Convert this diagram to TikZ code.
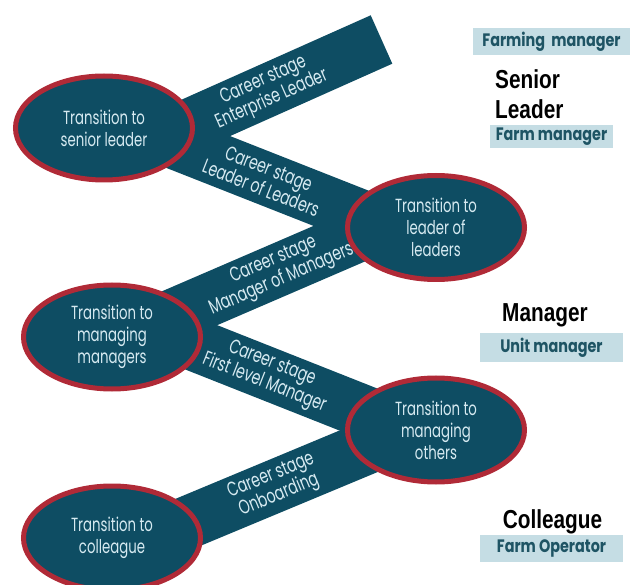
\documentclass[tikz,border=0pt]{standalone}
\usepackage{fontspec}
\newfontfamily\gothic[FakeStretch=0.7]{Poppins}
\newfontfamily\gothicwide[FakeStretch=0.8]{Poppins}
\newfontfamily\narrowhead[FakeStretch=0.8]{Liberation Sans}
\usetikzlibrary{shapes.geometric,backgrounds}
\definecolor{stagecol}{RGB}{14,77,99}
\definecolor{rimred}{RGB}{176,42,55}
\definecolor{boxblue}{RGB}{197,221,228}
\definecolor{boxtext}{RGB}{30,84,100}
\definecolor{paletext}{RGB}{214,234,241}
\begin{document}
\begin{tikzpicture}[x=1pt,y=-1pt,
    trans/.style={ellipse, draw=rimred, line width=5pt, fill=stagecol, minimum width=177pt, minimum height=104pt, inner sep=0pt, text=paletext, align=center, font=\gothic\fontsize{19}{22}\selectfont},
    band/.style={draw=stagecol, line width=53pt},
    stagelbl/.style={sloped, text=paletext, align=center, inner sep=0pt, font=\gothic\fontsize{20}{21}\selectfont},
    level/.style={inner sep=0pt, align=left, font=\narrowhead\bfseries\fontsize{26}{30}\selectfont},
    role/.style={fill=boxblue, text=boxtext, inner sep=0pt, font=\gothicwide\bfseries\fontsize{18}{20}\selectfont}]
    \useasboundingbox (0,0) rectangle (632,585);

    \node[trans] (senior) at (104,128) {Transition to\\senior leader};
    \node[trans] (leaders) at (436,227.5) {Transition to\\leader of\\leaders};
    \node[trans] (mgrs) at (112,337) {Transition to\\managing\\managers};
    \node[trans] (others) at (436,430) {Transition to\\managing\\others};
    \node[trans] (colleague) at (112,538) {Transition to\\colleague};
    \coordinate (peak) at (381.5,39.5);

    \begin{scope}[on background layer]
        \draw[band] ([shift={(50,13)}]senior.center) -- node[stagelbl, pos=0.5]{Career stage\\Enterprise Leader} (peak);
        \draw[band] ([shift={(46,5)}]senior.center) -- node[stagelbl, pos=0.46]{Career stage\\Leader of Leaders} ([shift={(-36,4)}]leaders.center);
        \draw[band] ([shift={(48,-16)}]mgrs.center) -- node[stagelbl, pos=0.49]{Career stage\\Manager of Managers} ([shift={(-36,-10)}]leaders.center);
        \draw[band] ([shift={(48,-6)}]mgrs.center) -- node[stagelbl, pos=0.45]{Career stage\\First level Manager} ([shift={(-36,-4)}]others.center);
        \draw[band] ([shift={(48,-4)}]colleague.center) -- node[stagelbl, pos=0.48]{Career stage\\Onboarding} ([shift={(-36,4)}]others.center);
    \end{scope}

    \node[role, minimum width=157pt, minimum height=27pt] (farming) at (551.5,41.5) {Farming\ \ manager};
    \node[level, anchor=west] (seniorlvl) at (495,94) {Senior\\Leader};
    \node[role, minimum width=123pt, minimum height=23pt] (farm) at (551.5,136.5) {Farm manager};
    \node[level, anchor=base] (managerlvl) at (545,322) {Manager};
    \node[role, minimum width=143pt, minimum height=29pt] (unit) at (551.5,347.5) {Unit manager};
    \node[level, anchor=base] (colleaguelvl) at (552.5,528) {Colleague};
    \node[role, minimum width=143pt, minimum height=27pt] (operator) at (551.5,548.5) {Farm Operator};
\end{tikzpicture}
\end{document}
